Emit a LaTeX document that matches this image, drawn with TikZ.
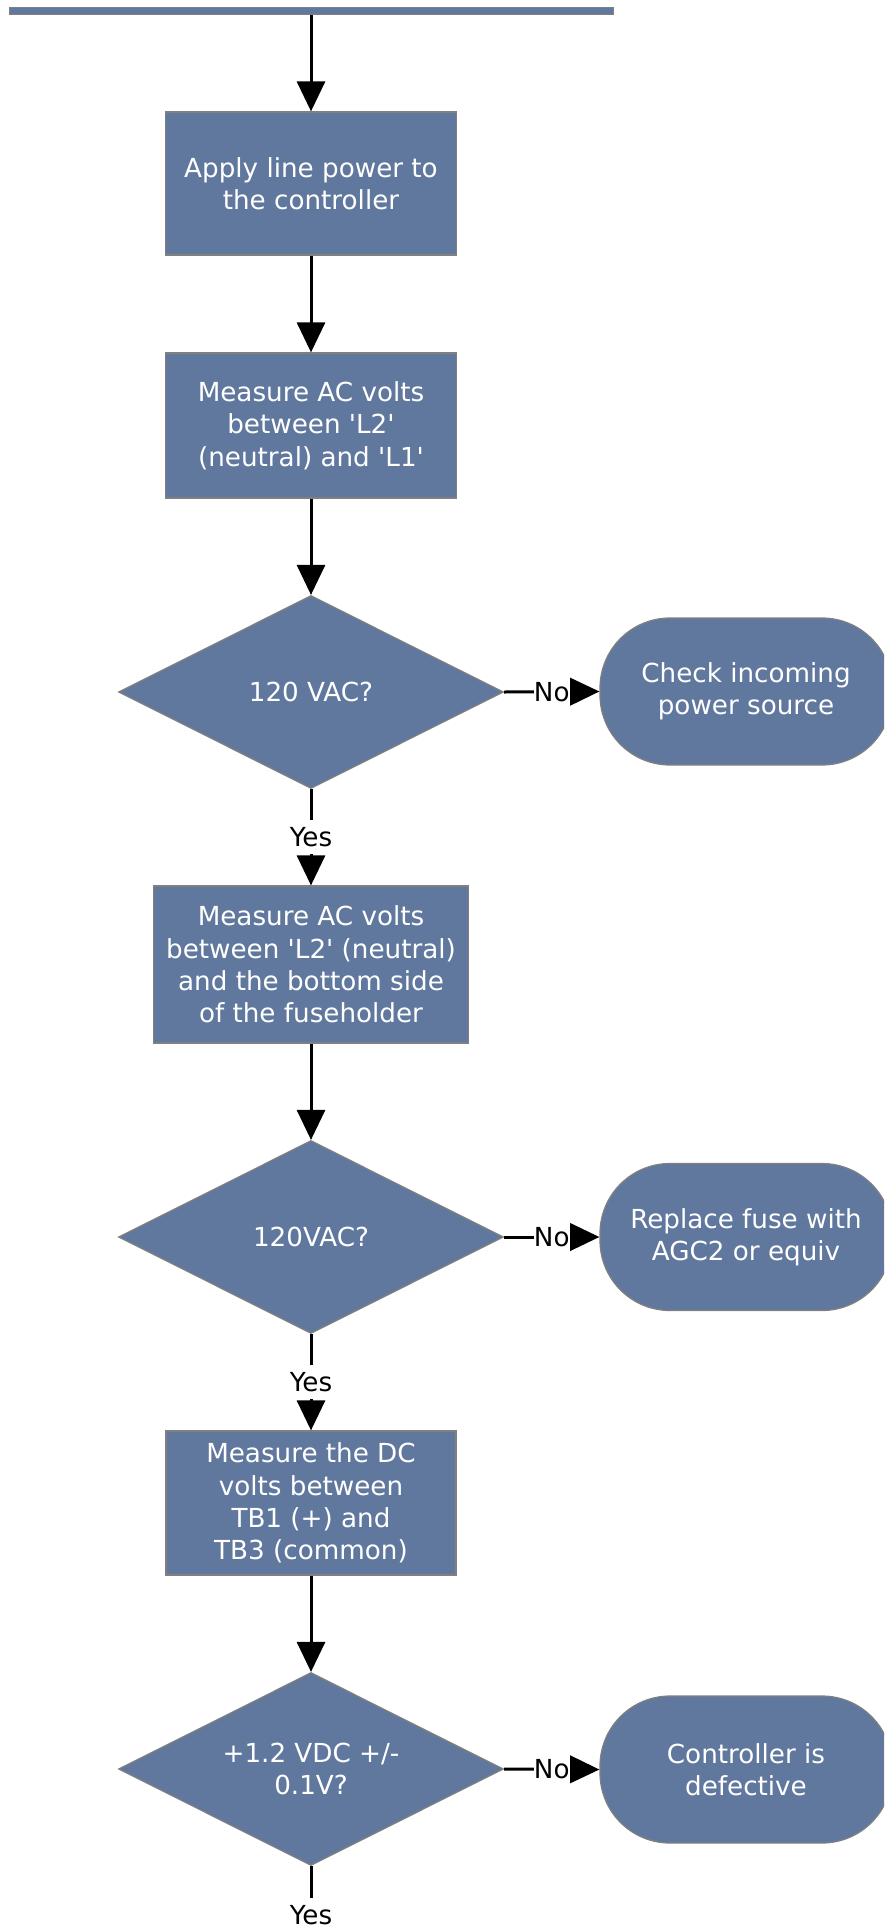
\documentclass[tikz,border=0pt]{standalone}
\usepackage{fontspec}
\setmainfont{DejaVu Sans}
\usetikzlibrary{shapes.geometric,arrows.meta}
\definecolor{boxblue}{RGB}{97,120,158}
\definecolor{boxedge}{RGB}{128,128,128}
\newcommand{\sq}{\textquotesingle}
\begin{document}
\begin{tikzpicture}[x=1pt,y=-1pt,
  every node/.style={font=\fontsize{26.2pt}{32.3pt}\selectfont},
  proc/.style={rectangle, draw=boxedge, line width=1.2pt, fill=boxblue, text=white, align=center, inner sep=0pt},
  dec/.style={diamond, aspect=2, draw=boxedge, line width=1.2pt, fill=boxblue, text=white, align=center, inner sep=0pt, minimum width=385pt, minimum height=193pt},
  term/.style={rectangle, rounded corners=70pt, draw=boxedge, line width=1.2pt, fill=boxblue, text=white, align=center, inner sep=0pt, minimum width=292pt, minimum height=147pt},
  flow/.style={line width=3pt, -{Triangle[length=30pt,width=28pt]}},
  lab/.style={fill=white, text=black, inner xsep=0pt, inner ysep=4.5pt, text height=22pt, text depth=3pt}
]
\path[use as bounding box, clip] (0,0) rectangle (884,1927);

\node[rectangle, draw=boxedge, line width=1pt, fill=boxblue, minimum width=604pt, minimum height=6.7pt, inner sep=0pt] (bar) at (311.8,11.35) {};

\node[proc, minimum width=291pt, minimum height=143pt] (b1) at (311,183.5) {Apply line power to\\the controller};
\node[proc, minimum width=291pt, minimum height=145pt] (b2) at (311,425.5) {Measure AC volts\\between \sq L2\sq\\(neutral) and \sq L1\sq};
\node[dec] (d1) at (311,692) {120 VAC?};
\node[term] (t1) at (746,691.5) {Check incoming\\power source};
\node[proc, minimum width=315pt, minimum height=157pt] (b3) at (311,964.5) {Measure AC volts\\between \sq L2\sq\ (neutral)\\and the bottom side\\of the fuseholder};
\node[dec] (d2) at (311,1237) {120VAC?};
\node[term] (t2) at (746,1237) {Replace fuse with\\AGC2 or equiv};
\node[proc, minimum width=290pt, minimum height=144pt] (b4) at (311,1503) {Measure the DC\\volts between\\TB1 (+) and\\TB3 (common)};
\node[dec] (d3) at (311,1769) {+1.2 VDC +/-\\0.1V?};
\node[term] (t3) at (746,1769.5) {Controller is\\defective};
\coordinate (end) at (311,1963);

\draw[flow] (bar.south -| b1.north) -- (b1.north);
\draw[flow] (b1.south) -- (b2.north);
\draw[flow] (b2.south) -- (d1.north);
\draw[flow] (d1.east) -- node[lab]{No} (t1.west);
\draw[flow] (d1.south) -- node[lab]{Yes} (b3.north);
\draw[flow] (b3.south) -- (d2.north);
\draw[flow] (d2.east) -- node[lab]{No} (t2.west);
\draw[flow] (d2.south) -- node[lab]{Yes} (b4.north);
\draw[flow] (b4.south) -- (d3.north);
\draw[flow] (d3.east) -- node[lab]{No} (t3.west);
\draw[flow] (d3.south) -- node[lab]{Yes} (end);
\end{tikzpicture}
\end{document}
